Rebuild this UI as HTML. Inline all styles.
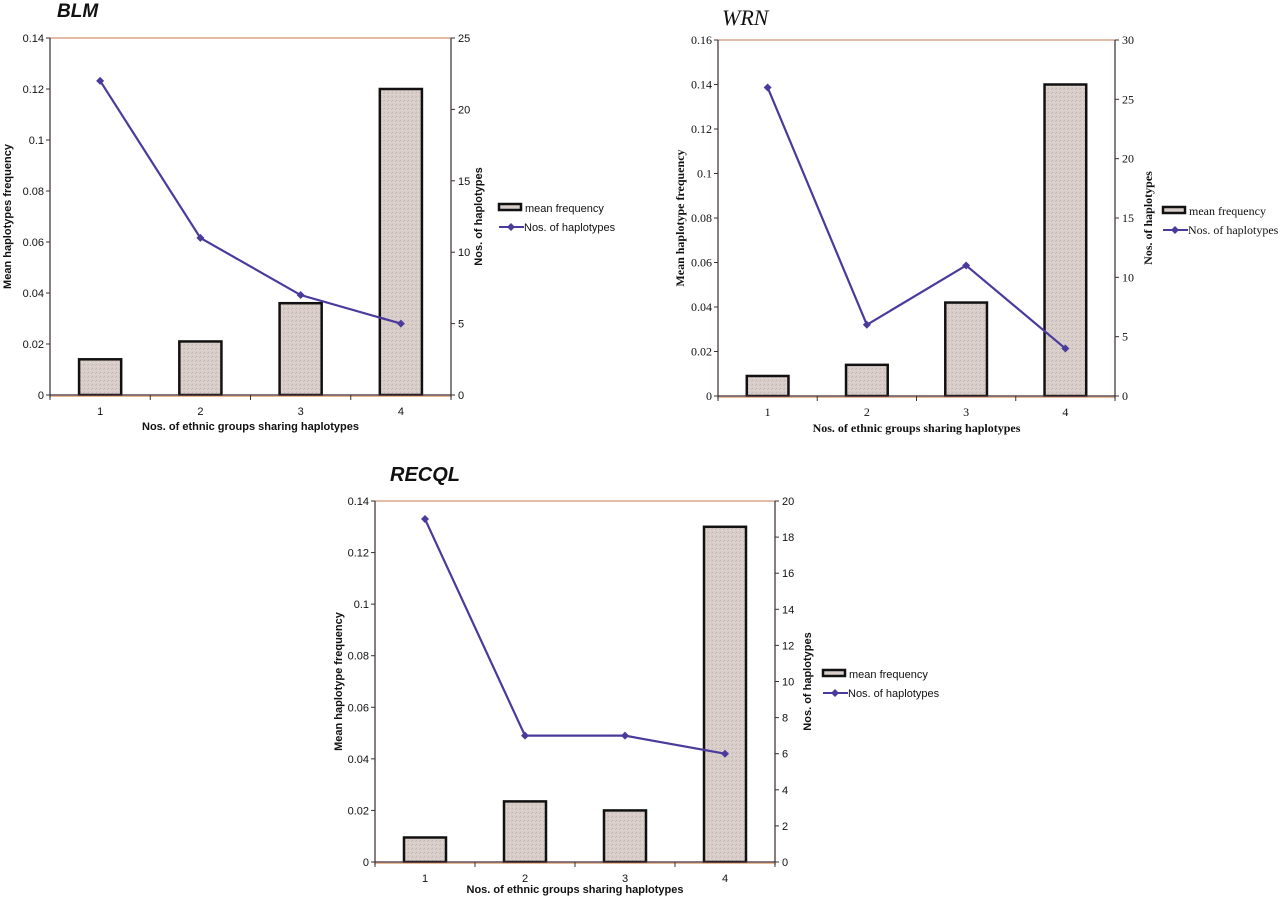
<!DOCTYPE html>
<html><head><meta charset="utf-8"><style>
body{margin:0;background:#fff;width:1280px;height:901px;overflow:hidden}
svg{display:block}
</style></head><body>
<svg id="s" width="1280" height="901" viewBox="0 0 1280 901" xmlns="http://www.w3.org/2000/svg">
<defs>
<pattern id="grain" width="4" height="4" patternUnits="userSpaceOnUse">
<rect width="4" height="4" fill="#d8cdc8"/>
<rect x="0" y="0" width="1" height="1" fill="#c4b7b4"/>
<rect x="2" y="2" width="1" height="1" fill="#e6ddd8"/>
<rect x="3" y="1" width="1" height="1" fill="#cbbfbd"/>
</pattern>
</defs>
</svg>
<script>
const categories = ["1","2","3","4"];
const blmFreq = [0.014, 0.021, 0.036, 0.12];
const blmCount = [22, 11, 7, 5];
const blmLeftTicks = [0, 0.02, 0.04, 0.06, 0.08, 0.1, 0.12, 0.14];
const blmRightTicks = [0, 5, 10, 15, 20, 25];
const wrnFreq = [0.009, 0.014, 0.042, 0.14];
const wrnCount = [26, 6, 11, 4];
const wrnLeftTicks = [0, 0.02, 0.04, 0.06, 0.08, 0.1, 0.12, 0.14, 0.16];
const wrnRightTicks = [0, 5, 10, 15, 20, 25, 30];
const recqlFreq = [0.0095, 0.0235, 0.02, 0.13];
const recqlCount = [19, 7, 7, 6];
const recqlLeftTicks = [0, 0.02, 0.04, 0.06, 0.08, 0.1, 0.12, 0.14];
const recqlRightTicks = [0, 2, 4, 6, 8, 10, 12, 14, 16, 18, 20];

const NS = "http://www.w3.org/2000/svg";
const svg = document.getElementById('s');
function mk(tag, attrs, parent, text){
  const e = document.createElementNS(NS, tag);
  for (const k in attrs) e.setAttribute(k, attrs[k]);
  if (text !== undefined) e.textContent = text;
  (parent || svg).appendChild(e);
  return e;
}

function chart(c){
  const g = mk('g', {});
  
  
  const font = c.font, fs = c.fs;
  const yL = v => c.b - (v / c.lMax) * (c.b - c.t);
  const yR = v => c.b - (v / c.rMax) * (c.b - c.t);
  const band = (c.r - c.l) / categories.length;
  const xC = i => c.l + band * (i + 0.5);

  const title = mk('text', {x:c.titleX, y:c.titleY, 'font-family':c.titleFont, 'font-size':c.titleSize, 'font-weight':c.titleWeight, 'font-style':'italic', fill:'#111'}, g, c.title);
  
  

  c.freq.forEach((v, i) => {
    const bw = band * 0.42;
    const rct = mk('rect', {x:xC(i)-bw/2, y:yL(v), width:bw, height:c.b - yL(v), fill:'url(#grain)', stroke:'#111', 'stroke-width':2.5}, g);
    
    
  });

  mk('line', {x1:c.l, y1:c.t, x2:c.r, y2:c.t, stroke:'#d9a68a', 'stroke-width':1.5}, g);
  const la = mk('line', {x1:c.l, y1:c.t, x2:c.l, y2:c.b+3, stroke:'#3a2a2e', 'stroke-width':1.2}, g);
  
  
  const ra = mk('line', {x1:c.r, y1:c.t, x2:c.r, y2:c.b+3, stroke:'#3a2a2e', 'stroke-width':1.2}, g);
  
  
  const xa = mk('line', {x1:c.l, y1:c.b, x2:c.r, y2:c.b, stroke:'#3a2a3a', 'stroke-width':1.3}, g);
  
  
  mk('line', {x1:c.l, y1:c.b+1.3, x2:c.r, y2:c.b+1.3, stroke:'#e0a070', 'stroke-width':1}, g);

  c.lTicks.forEach(v => {
    mk('line', {x1:c.l-4, y1:yL(v), x2:c.l, y2:yL(v), stroke:'#333', 'stroke-width':1}, g);
    const t = mk('text', {x:c.l-6, y:yL(v)+4, 'text-anchor':'end', 'font-family':font, 'font-size':fs, fill:'#111'}, g, String(v));
    
    
  });
  c.rTicks.forEach(v => {
    mk('line', {x1:c.r, y1:yR(v), x2:c.r+4, y2:yR(v), stroke:'#333', 'stroke-width':1}, g);
    const t = mk('text', {x:c.r+7, y:yR(v)+4, 'font-family':font, 'font-size':fs, fill:'#111'}, g, String(v));
    
    
  });
  for (let i = 0; i <= categories.length; i++) {
    mk('line', {x1:c.l+band*i, y1:c.b, x2:c.l+band*i, y2:c.b+5, stroke:'#333', 'stroke-width':1}, g);
  }
  categories.forEach((cat, i) => {
    const t = mk('text', {x:xC(i), y:c.b+20, 'text-anchor':'middle', 'font-family':font, 'font-size':fs, fill:'#111'}, g, cat);
    
    
  });

  const pts = c.count.map((v, i) => xC(i) + ',' + yR(v)).join(' ');
  const pl = mk('polyline', {points:pts, fill:'none', stroke:'#4a3a9c', 'stroke-width':2.2}, g);
  
  
  c.count.forEach((v, i) => {
    const x = xC(i), y = yR(v);
    const p = mk('polygon', {points:`${x},${y-4} ${x+4},${y} ${x},${y+4} ${x-4},${y}`, fill:'#4a3a9c'}, g);
    
    
  });

  const xt = mk('text', {x:(c.l+c.r)/2, y:c.xtY, 'text-anchor':'middle', 'font-family':font, 'font-size':fs, 'font-weight':'bold', fill:'#111'}, g, 'Nos. of ethnic groups sharing haplotypes');
  
  
  const cy = (c.t + c.b) / 2;
  const lt = mk('text', {x:c.ltX, y:cy, 'text-anchor':'middle', 'font-family':font, 'font-size':fs, 'font-weight':'bold', fill:'#111', transform:`rotate(-90 ${c.ltX} ${cy})`}, g, c.lTitle);
  
  
  const rt = mk('text', {x:c.rtX, y:cy, 'text-anchor':'middle', 'font-family':font, 'font-size':fs, 'font-weight':'bold', fill:'#111', transform:`rotate(-90 ${c.rtX} ${cy})`}, g, 'Nos. of haplotypes');
  
  

  const lg = mk('g', {}, g);
  
  
  mk('rect', {x:c.lgX, y:c.lgY-4, width:22, height:6, fill:'#d8cdc8', stroke:'#111', 'stroke-width':2.5}, lg);
  mk('text', {x:c.lgX+26, y:c.lgY+4, 'font-family':font, 'font-size':fs, fill:'#111'}, lg, 'mean frequency');
  mk('line', {x1:c.lgX, y1:c.lgY+19, x2:c.lgX+25, y2:c.lgY+19, stroke:'#4a3a9c', 'stroke-width':2}, lg);
  const x = c.lgX+12, y = c.lgY+19;
  mk('polygon', {points:`${x},${y-4} ${x+4},${y} ${x},${y+4} ${x-4},${y}`, fill:'#4a3a9c'}, lg);
  mk('text', {x:c.lgX+25, y:c.lgY+23, 'font-family':font, 'font-size':fs, fill:'#111'}, lg, 'Nos. of haplotypes');
}

const sans = '"Liberation Sans", Arial, sans-serif';
const serif = '"Liberation Serif", serif';
chart({id:'blm', title:'BLM', titleX:57, titleY:17, titleSize:19, titleFont:sans, titleWeight:'bold',
  font:sans, fs:11, l:50, r:451, t:38, b:395, lMax:0.14, rMax:25,
  freq:blmFreq, count:blmCount, lTicks:blmLeftTicks, rTicks:blmRightTicks,
  lTitle:'Mean haplotypes frequency', ltX:11, rtX:482, xtY:430, lgX:499, lgY:208});
chart({id:'wrn', title:'WRN', titleX:722, titleY:25, titleSize:22, titleFont:serif, titleWeight:'normal',
  font:serif, fs:12, l:718, r:1115, t:40, b:396, lMax:0.16, rMax:30,
  freq:wrnFreq, count:wrnCount, lTicks:wrnLeftTicks, rTicks:wrnRightTicks,
  lTitle:'Mean haplotype frequency', ltX:684, rtX:1152, xtY:432, lgX:1163, lgY:211});
chart({id:'recql', title:'RECQL', titleX:390, titleY:481, titleSize:20, titleFont:sans, titleWeight:'bold',
  font:sans, fs:11, l:375, r:775, t:501, b:862, lMax:0.14, rMax:20,
  freq:recqlFreq, count:recqlCount, lTicks:recqlLeftTicks, rTicks:recqlRightTicks,
  lTitle:'Mean haplotype frequency', ltX:342, rtX:811, xtY:893, lgX:823, lgY:674});
</script>
</body></html>
